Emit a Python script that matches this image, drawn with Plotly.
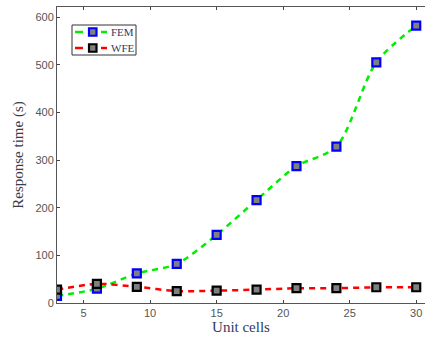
import plotly.graph_objects as go

unit_cells = [3, 6, 9, 12, 15, 18, 21, 24, 27, 30]
fem_time = [15, 30, 62, 82, 143, 216, 287, 328, 505, 582]
wfe_time = [28, 40, 34, 25, 26, 28, 31, 31, 33, 33]
x_ticks = [5, 10, 15, 20, 25, 30]
y_ticks = [0, 100, 200, 300, 400, 500, 600]

series = [
    ("FEM", fem_time, "#00ee00", "#0000ff"),
    ("WFE", wfe_time, "#ff0000", "#000000"),
]

fig = go.Figure()
for name, vals, lc, mc in series:
    fig.add_trace(go.Scatter(
        x=unit_cells, y=vals, name=name, mode="lines+markers",
        line=dict(color=lc, width=2.5, dash="6px,5px", shape="spline", smoothing=0.8),
        marker=dict(symbol="square", size=8, color="#808080", line=dict(color=mc, width=2.2)),
    ))

# custom legend (plot-area pixel geometry: left 57, right 425, top 7, bottom 303)
L, R, T, B = 57, 425, 7, 303
px = lambda v: (v - L) / (R - L)
py = lambda v: (B - v) / (B - T)

shapes = [dict(type="rect", xref="paper", yref="paper",
               x0=px(72), x1=px(136), y0=py(55), y1=py(25),
               line=dict(color="#333333", width=1), fillcolor="white", layer="above")]
annotations = []
for i, (name, vals, lc, mc) in enumerate(series):
    ry = 32 + 16 * i
    for a, b in ((75, 83), (101, 107)):
        shapes.append(dict(type="line", xref="paper", yref="paper",
                           x0=px(a), x1=px(b), y0=py(ry), y1=py(ry),
                           line=dict(color=lc, width=2.5), layer="above"))
    shapes.append(dict(type="rect", xref="paper", yref="paper",
                       x0=px(89), x1=px(96.5), y0=py(ry + 3.75), y1=py(ry - 3.75),
                       line=dict(color=mc, width=2.2), fillcolor="#808080", layer="above"))
    annotations.append(dict(xref="paper", yref="paper", x=px(109), y=py(ry),
                            xanchor="left", yanchor="middle", text=name, showarrow=False,
                            font=dict(family="Liberation Serif", size=11, color="#2f3b63")))

fig.update_layout(
    width=425, height=338,
    margin=dict(l=57, r=0, t=7, b=35),
    paper_bgcolor="white", plot_bgcolor="white",
    showlegend=False,
    shapes=shapes, annotations=annotations,
    xaxis=dict(
        range=[3, 30.66], tickvals=x_ticks, ticks="inside", ticklen=3,
        showline=True, linecolor="#555555", linewidth=1, mirror="ticks",
        showgrid=False, zeroline=False,
        tickfont=dict(family="Liberation Sans", size=11, color="#555555"),
        title=dict(text="Unit cells", standoff=2,
                   font=dict(family="Liberation Serif", size=15, color="#2f3b63")),
    ),
    yaxis=dict(
        range=[0, 621], tickvals=y_ticks, ticks="inside", ticklen=3,
        showline=True, linecolor="#555555", linewidth=1,
        showgrid=False, zeroline=False,
        tickfont=dict(family="Liberation Sans", size=11, color="#555555"),
        title=dict(text="Response time (s)", standoff=8,
                   font=dict(family="Liberation Serif", size=15, color="#3b3a4a")),
    ),
)

fig.write_html("out.html")
